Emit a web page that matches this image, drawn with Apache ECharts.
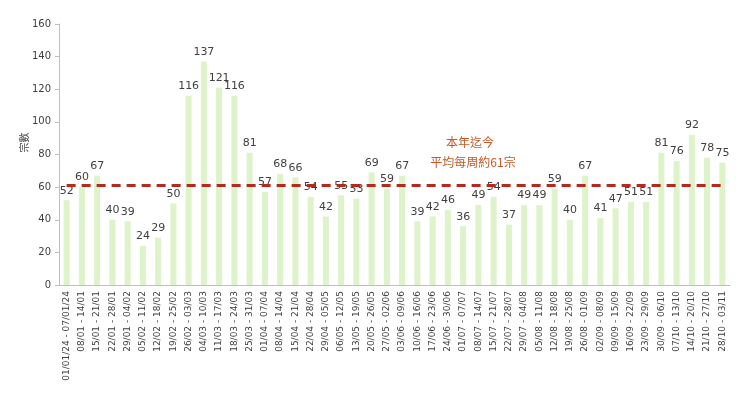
<!DOCTYPE html>
<html><head><meta charset="utf-8">
<script src="https://cdn.jsdelivr.net/npm/echarts@6/dist/echarts.min.js"></script>
<style>html,body{margin:0;padding:0;background:#fff}#c{width:750px;height:398px}</style>
</head><body><div id="c"></div>
<script>
var categories = ["01/01/24 - 07/01/24","08/01 - 14/01","15/01 - 21/01","22/01 - 28/01","29/01 - 04/02","05/02 - 11/02","12/02 - 18/02","19/02 - 25/02","26/02 - 03/03","04/03 - 10/03","11/03 - 17/03","18/03 - 24/03","25/03 - 31/03","01/04 - 07/04","08/04 - 14/04","15/04 - 21/04","22/04 - 28/04","29/04 - 05/05","06/05 - 12/05","13/05 - 19/05","20/05 - 26/05","27/05 - 02/06","03/06 - 09/06","10/06 - 16/06","17/06 - 23/06","24/06 - 30/06","01/07 - 07/07","08/07 - 14/07","15/07 - 21/07","22/07 - 28/07","29/07 - 04/08","05/08 - 11/08","12/08 - 18/08","19/08 - 25/08","26/08 - 01/09","02/09 - 08/09","09/09 - 15/09","16/09 - 22/09","23/09 - 29/09","30/09 - 06/10","07/10 - 13/10","14/10 - 20/10","21/10 - 27/10","28/10 - 03/11"];
var cases = [52,60,67,40,39,24,29,50,116,137,121,116,81,57,68,66,54,42,55,53,69,59,67,39,42,46,36,49,54,37,49,49,59,40,67,41,47,51,51,81,76,92,78,75];
var averageValue = 61;
var annotationLines = ["本年迄今", "平均每周約61宗"];
var yAxisName = "宗數";

var chart = echarts.init(document.getElementById('c'));
chart.setOption({
  animation: false,
  grid: {left: 59, right: 20, top: 24, bottom: 113},
  xAxis: {
    type: 'category', data: categories,
    axisLine: {lineStyle: {color: '#bfbfbf'}},
    axisTick: {show: false},
    axisLabel: {rotate: 90, interval: 0, fontSize: 9, color: '#404040', fontFamily: 'DejaVu Sans', margin: 6}
  },
  yAxis: {
    type: 'value', min: 0, max: 160, interval: 20,
    name: yAxisName, nameLocation: 'middle', nameRotate: 90, nameGap: 30, nameMoveOverlap: false,
    nameTextStyle: {fontSize: 10, color: '#404040', fontFamily: 'Noto Sans CJK TC', padding: [0, 0, 0, 24]},
    axisLine: {show: true, lineStyle: {color: '#bfbfbf'}},
    axisTick: {show: true, length: 4, lineStyle: {color: '#bfbfbf'}},
    splitLine: {show: false},
    axisLabel: {fontSize: 10, color: '#404040', fontFamily: 'DejaVu Sans', margin: 8}
  },
  series: [{
    type: 'bar', data: cases, barWidth: 6,
    itemStyle: {color: '#ddf3c9'},
    label: {show: true, position: 'top', fontSize: 11, color: '#404040', fontFamily: 'DejaVu Sans', distance: 4},
    markLine: {
      silent: true, symbol: 'none',
      lineStyle: {color: '#b8281c', type: [9, 6], width: 3},
      label: {show: false},
      data: [[{coord: [0, averageValue]}, {coord: [categories.length - 1, averageValue]}]]
    }
  }],
  graphic: [{
    type: 'text', x: 470, y: 136,
    style: {text: annotationLines[0], fill: '#c55a28', fontSize: 12, fontFamily: 'Noto Sans CJK TC', align: 'center'}
  },{
    type: 'text', x: 473, y: 156,
    style: {text: annotationLines[1], fill: '#c55a28', fontSize: 12, fontFamily: 'Noto Sans CJK TC', align: 'center'}
  }]
});
</script></body></html>
